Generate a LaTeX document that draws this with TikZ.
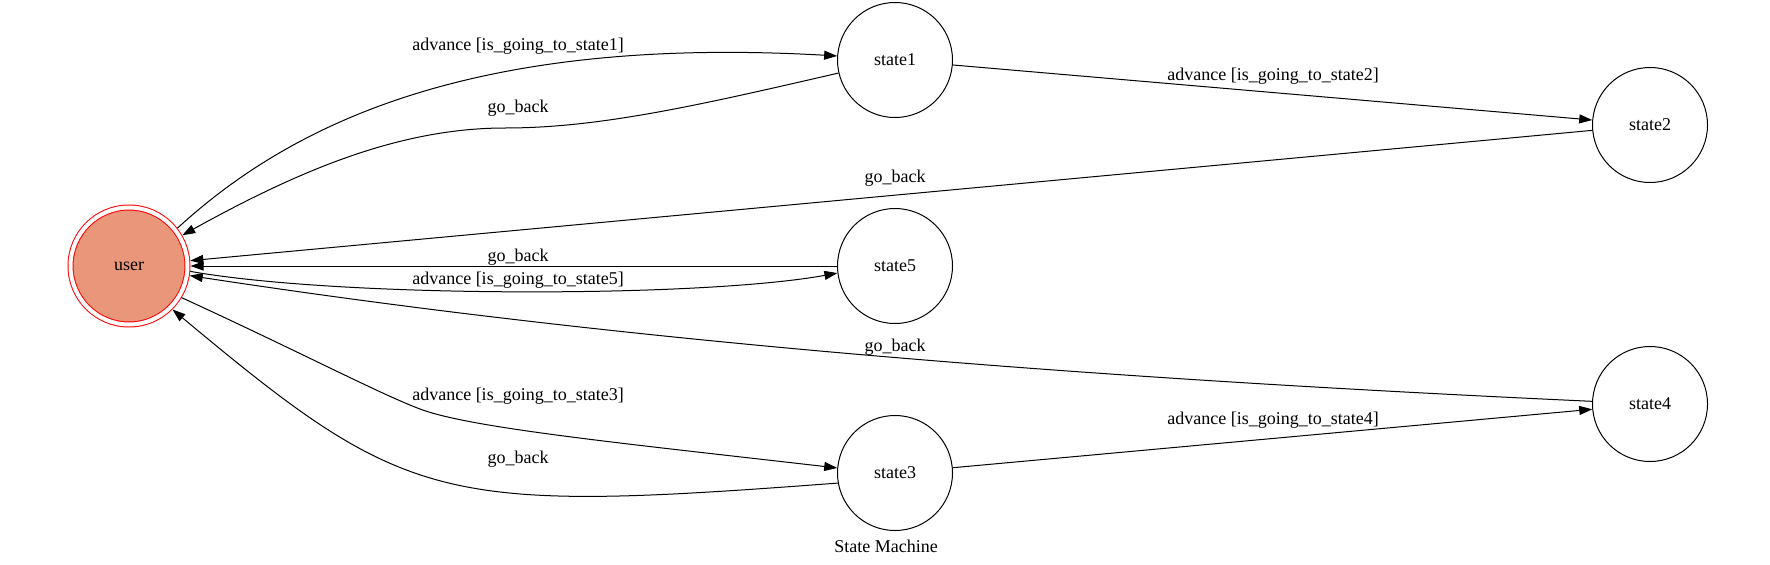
\documentclass[tikz,border=0pt]{standalone}
\usepackage{fontspec}
\setmainfont{Liberation Serif}
\usetikzlibrary{arrows.meta}
\definecolor{usercol}{RGB}{233,150,122}

\begin{document}
\begin{tikzpicture}[x=1pt,y=-1pt,font=\fontsize{18}{22}\selectfont]
\tikzstyle{vertex} = [draw,shape=circle,line width=1pt,minimum size=115pt,inner sep=0pt]
\tikzstyle{usernode} = [vertex,draw=red,fill=usercol,double=white,double distance=4pt,minimum size=117pt,outer sep=3pt]
\tikzstyle{elabel} = [inner sep=0pt]
\tikzstyle{trans} = [line width=1pt,-{Triangle[length=13pt,width=9pt]}]

\useasboundingbox (0,0) rectangle (1770,565);

\node[usernode] (user) at (129,266) {user};
\node[vertex] (state1) at (895,60) {state1};
\node[vertex] (state2) at (1650,125) {state2};
\node[vertex] (state5) at (895,266) {state5};
\node[vertex] (state3) at (895,473) {state3};
\node[vertex] (state4) at (1650,404) {state4};

\draw[trans] (user.38) .. controls (290,125) and (470,35) .. (state1.176);
\draw[trans] (state1.193) .. controls (700,105) and (600,128) .. (505,128)
  .. controls (400,128) and (300,170) .. (user.30);
\draw[trans] (state1) -- (state2);
\draw[trans] (state2) -- (user.5);
\draw[trans] (state5) -- (user);
\draw[trans] (user.-5) .. controls (340,298) and (700,298) .. (state5.187);
\draw[trans] (state4) .. controls (1130,380) and (657,347) .. (user.-9);
\draw[trans] (user.-31) .. controls (300,352) and (380,394) .. (420,409)
  .. controls (470,428) and (620,443) .. (state3.175);
\draw[trans] (state3.190) .. controls (440,513) and (408,506) .. (user.-45);
\draw[trans] (state3) -- (state4);

\node[elabel] (l1) at (518,46) {advance [is\_going\_to\_state1]};
\node[elabel] (l2) at (518,108) {go\_back};
\node[elabel] (l3) at (1273,76) {advance [is\_going\_to\_state2]};
\node[elabel] (l4) at (895,178) {go\_back};
\node[elabel] (l5) at (518,257) {go\_back};
\node[elabel] (l6) at (518,280) {advance [is\_going\_to\_state5]};
\node[elabel] (l7) at (895,347) {go\_back};
\node[elabel] (l8) at (518,396) {advance [is\_going\_to\_state3]};
\node[elabel] (l9) at (1273,420) {advance [is\_going\_to\_state4]};
\node[elabel] (l10) at (518,459) {go\_back};

\node[elabel] (title) at (886,546) {State Machine};
\end{tikzpicture}
\end{document}
